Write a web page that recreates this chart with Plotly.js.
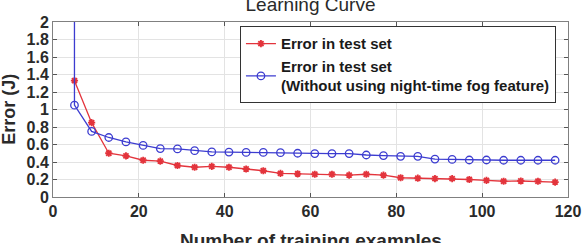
<!DOCTYPE html>
<html>
<head>
<meta charset="utf-8">
<script src="https://cdn.plot.ly/plotly-3.0.1.min.js"></script>
<style>html,body{margin:0;padding:0;background:#fff;}#chart{width:583px;height:243px;}</style>
</head>
<body>
<div id="chart"></div>
<script>
var trainingExamples = [5,9,13,17,21,25,29,33,37,41,45,49,53,57,61,65,69,73,77,81,85,89,93,97,101,105,109,113,117];
var errorTest = [1.33,0.85,0.50,0.47,0.42,0.41,0.36,0.34,0.35,0.34,0.32,0.30,0.27,0.265,0.26,0.26,0.25,0.26,0.25,0.22,0.215,0.21,0.21,0.20,0.19,0.18,0.183,0.18,0.17];
var errorTestNoFog = [1.05,0.75,0.68,0.63,0.59,0.553,0.55,0.53,0.515,0.514,0.51,0.51,0.507,0.50,0.496,0.496,0.496,0.48,0.473,0.465,0.465,0.434,0.43,0.423,0.423,0.42,0.42,0.42,0.42];
// blue curve starts far above the y range at the first training size
var noFogStartX = [5];
var noFogStartY = [3.5];
var xTicks = [0,20,40,60,80,100,120];
var yTicks = [0,0.2,0.4,0.6,0.8,1,1.2,1.4,1.6,1.8,2];
var xTitle = 'Number of training examples';
var yTitle = 'Error (J)';

var FAM = 'Liberation Sans, Arial, sans-serif';
var redTrace = {
  x: trainingExamples, y: errorTest, type: 'scatter', mode: 'lines+markers',
  name: 'Error in test set',
  line: {color: '#e3343c', width: 1.3},
  marker: {symbol: 'asterisk-open', size: 6, color: '#e3343c', line: {color: '#e3343c', width: 1.8}}
};
var blueTrace = {
  x: noFogStartX.concat(trainingExamples), y: noFogStartY.concat(errorTestNoFog),
  type: 'scatter', mode: 'lines+markers',
  name: 'Error in test set<br>(Without using night-time fog feature)',
  line: {color: '#3c3cd0', width: 1.3},
  marker: {symbol: 'circle-open', size: 7.5, color: '#3c3cd0', line: {color: '#3c3cd0', width: 1.3}}
};

var tickFont = {family: FAM, size: 16, color: '#2a2a2a', weight: 'bold'};
var layout = {
  width: 583, height: 243,
  margin: {l: 53, r: 15, t: 22, b: 46},
  paper_bgcolor: '#ffffff', plot_bgcolor: '#ffffff',
  font: {family: FAM, color: '#262626'},
  title: {text: 'Learning Curve', font: {family: FAM, size: 19, color: '#2a2a2a'},
          x: 0.5, xref: 'paper', y: 0.982, yref: 'container', yanchor: 'middle'},
  xaxis: {
    range: [0, 120], tickvals: xTicks, ticks: 'inside', ticklen: 4, tickcolor: '#555',
    showline: true, linecolor: '#808080', linewidth: 1, mirror: 'ticks',
    showgrid: true, gridcolor: '#e3e3e3', zeroline: false, tickfont: tickFont,
    automargin: false
  },
  yaxis: {
    range: [0, 2], tickvals: yTicks, ticks: 'inside', ticklen: 4, tickcolor: '#555',
    showline: true, linecolor: '#808080', linewidth: 1, mirror: 'ticks',
    showgrid: true, gridcolor: '#e3e3e3', zeroline: false, tickfont: tickFont,
    automargin: false
  },
  annotations: [
    {text: xTitle, xref: 'paper', yref: 'paper', x: 0.5, y: -0.25, xanchor: 'center', yanchor: 'middle',
     showarrow: false, font: {family: FAM, size: 19, color: '#2a2a2a', weight: 'bold'}},
    {text: yTitle, xref: 'paper', yref: 'paper', x: -0.087, y: 0.5, xanchor: 'center', yanchor: 'middle',
     textangle: -90, showarrow: false, font: {family: FAM, size: 18, color: '#2a2a2a', weight: 'bold'}}
  ],
  legend: {
    x: 0.363, y: 0.975, xanchor: 'left', yanchor: 'top',
    bgcolor: '#ffffff', bordercolor: '#333333', borderwidth: 1,
    font: {family: FAM, size: 15, color: '#1a1a1a', weight: 'bold'},
    tracegroupgap: 0, itemwidth: 30
  },
  showlegend: true
};
Plotly.newPlot('chart', [redTrace, blueTrace], layout, {displayModeBar: false, staticPlot: true});
</script>
</body>
</html>
